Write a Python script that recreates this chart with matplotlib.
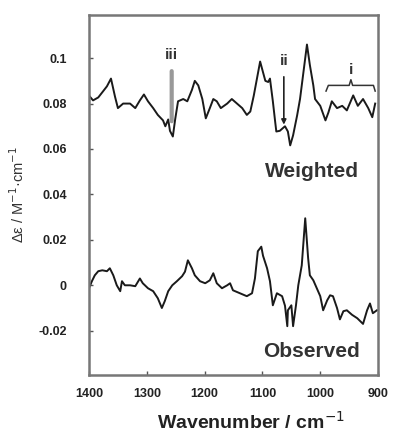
import numpy as np
import matplotlib

matplotlib.use("Agg")
import matplotlib.pyplot as plt

plt.rcParams["font.family"] = ["Liberation Sans", "DejaVu Sans"]

# Weighted spectrum (offset trace)
weighted_wn = [1400, 1393, 1384, 1376, 1369, 1362, 1355, 1350, 1341, 1329, 1320, 1312,
               1305, 1298, 1289, 1281, 1272, 1268, 1263, 1260, 1255, 1251, 1246, 1237,
               1230, 1222, 1217, 1211, 1204, 1198, 1191, 1185, 1179, 1172, 1161, 1153,
               1144, 1135, 1127, 1121, 1115, 1104, 1095, 1090, 1087, 1082, 1078, 1076,
               1070, 1061, 1056, 1052, 1047, 1040, 1035, 1030, 1023, 1018, 1012, 1009,
               1000, 991, 986, 980, 971, 962, 954, 943, 935, 926, 917, 910, 905]
weighted_val = [0.0835, 0.0814, 0.0827, 0.0853, 0.0876, 0.091, 0.083, 0.078, 0.080, 0.080,
                0.078, 0.0814, 0.084, 0.081, 0.078, 0.075, 0.0726, 0.070, 0.073, 0.068,
                0.0655, 0.073, 0.081, 0.082, 0.081, 0.086, 0.090, 0.088, 0.082, 0.0735,
                0.078, 0.082, 0.081, 0.078, 0.080, 0.082, 0.080, 0.078, 0.075, 0.0765,
                0.0835, 0.0985, 0.090, 0.0895, 0.091, 0.081, 0.072, 0.0677, 0.068, 0.070,
                0.0677, 0.0616, 0.066, 0.0748, 0.082, 0.092, 0.106, 0.097, 0.088, 0.082,
                0.079, 0.0726, 0.076, 0.081, 0.078, 0.079, 0.077, 0.0836, 0.079, 0.082,
                0.078, 0.074, 0.080]

# Observed spectrum
observed_wn = [1400, 1395, 1390, 1384, 1377, 1369, 1364, 1358, 1352, 1346, 1343, 1338,
               1329, 1320, 1312, 1307, 1298, 1289, 1281, 1274, 1269, 1263, 1256, 1248,
               1239, 1234, 1229, 1222, 1217, 1208, 1199, 1191, 1185, 1179, 1170, 1161,
               1156, 1151, 1139, 1127, 1118, 1113, 1108, 1102, 1099, 1092, 1087, 1082,
               1075, 1066, 1061, 1057, 1056, 1050, 1047, 1042, 1038, 1032, 1026, 1021,
               1018, 1012, 1006, 1000, 995, 988, 983, 978, 971, 966, 960, 954, 945, 936,
               926, 919, 914, 909, 902]
observed_val = [-0.0013, 0.0018, 0.0044, 0.0062, 0.0066, 0.0062, 0.0075, 0.0044, 0.0,
                -0.0026, 0.0018, 0.0, 0.0, -0.0004, 0.003, 0.0009, -0.0013, -0.0026,
                -0.0057, -0.010, -0.007, -0.0026, 0.0, 0.0018, 0.004, 0.006, 0.011,
                0.0075, 0.0044, 0.0018, 0.0009, 0.0022, 0.0053, 0.0009, -0.0013, 0.0,
                0.0009, -0.0022, -0.0035, -0.0048, -0.0035, 0.003, 0.015, 0.017, 0.013,
                0.0075, 0.0018, -0.0088, -0.0035, -0.0048, -0.009, -0.018, -0.011,
                -0.0088, -0.018, -0.0088, 0.0, 0.0088, 0.0295, 0.012, 0.0044, 0.0022,
                -0.0013, -0.0048, -0.011, -0.0066, -0.0044, -0.0048, -0.010, -0.015,
                -0.0114, -0.011, -0.013, -0.0145, -0.017, -0.011, -0.008, -0.0123, -0.011]

x_ticks = [1400, 1300, 1200, 1100, 1000, 900]
y_ticks = [-0.02, 0, 0.02, 0.04, 0.06, 0.08, 0.1]
y_tick_labels = ["-0.02", "0", "0.02", "0.04", "0.06", "0.08", "0.1"]

fig = plt.figure(figsize=(3.93, 4.38), dpi=100)
ax = fig.add_axes([0.2265, 0.1438, 0.7355, 0.822])

ax.plot(weighted_wn, weighted_val, color="#1a1a1a", linewidth=1.4)
ax.plot(observed_wn, observed_val, color="#1a1a1a", linewidth=1.4)

ax.set_xlim(1400, 900)
ax.set_ylim(-0.0395, 0.119)
ax.set_xticks(x_ticks)
ax.set_yticks(y_ticks)
ax.set_yticklabels(y_tick_labels)
ax.tick_params(direction="in", length=3, width=1, color="#555555",
               labelsize=9, labelcolor="#222222")
ax.tick_params(axis="y", pad=16)
ax.tick_params(axis="x", pad=9)
for label in ax.get_xticklabels() + ax.get_yticklabels():
    label.set_fontweight("bold")
for spine in ax.spines.values():
    spine.set_color("#777777")
    spine.set_linewidth(1.8)

ax.set_xlabel("Wavenumber / cm$^{-1}$", fontsize=14, fontweight="bold",
              color="#222222")
ax.xaxis.set_label_coords(0.56, -0.1)
ax.set_ylabel("Δε / M$^{-1}$·cm$^{-1}$", fontsize=10.5, color="#333333", labelpad=8)

# annotations
ax.annotate("", xy=(1257, 0.071), xytext=(1257, 0.0955),
            arrowprops=dict(arrowstyle="-", color="#999999", lw=3))
ax.text(1257, 0.0985, "iii", ha="center", va="bottom", fontsize=11,
        fontweight="bold", color="#333333")
ax.annotate("", xy=(1063, 0.0695), xytext=(1063, 0.093),
            arrowprops=dict(arrowstyle="-|>", color="#222222", lw=1.2,
                            mutation_scale=7))
ax.text(1063, 0.0955, "ii", ha="center", va="bottom", fontsize=11,
        fontweight="bold", color="#333333")
bx = [990, 986, 950, 947, 944, 908, 905]
by = [0.0855, 0.088, 0.088, 0.0905, 0.088, 0.088, 0.0855]
ax.plot(bx, by, color="#333333", linewidth=1.1)
ax.text(947, 0.0915, "i", ha="center", va="bottom", fontsize=11,
        fontweight="bold", color="#333333")

ax.text(1096, 0.050, "Weighted", ha="left", va="center", fontsize=15,
        fontweight="bold", color="#333333")
ax.text(1098, -0.029, "Observed", ha="left", va="center", fontsize=15,
        fontweight="bold", color="#333333")

fig.savefig("out.png", dpi=100)
